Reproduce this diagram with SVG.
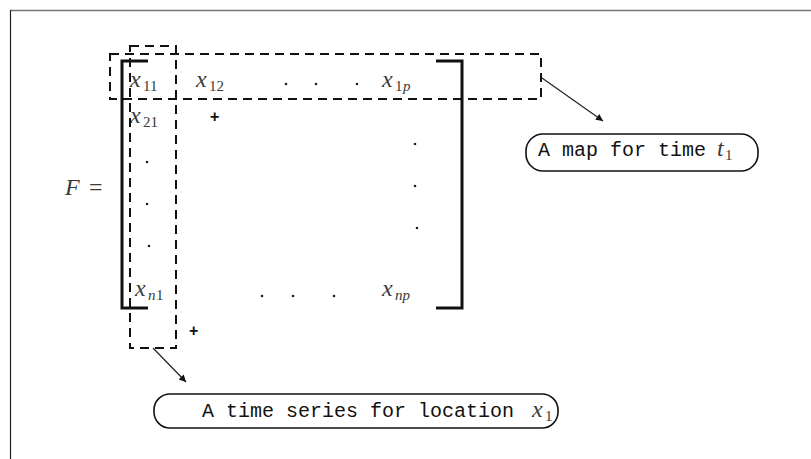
<svg xmlns="http://www.w3.org/2000/svg" width="811" height="459" viewBox="0 0 811 459">
  <style>
    .math { font-family: "Liberation Serif", "DejaVu Serif", serif; font-style: italic; fill: #3a3a3a; font-size: 24px; }
    .sub { font-family: "Liberation Serif", "DejaVu Serif", serif; font-style: normal; fill: #3a3a3a; font-size: 15px; }
    .subi { font-family: "Liberation Serif", "DejaVu Serif", serif; font-style: italic; fill: #3a3a3a; font-size: 15px; }
    .rm { font-family: "Liberation Serif", "DejaVu Serif", serif; fill: #3a3a3a; font-size: 24px; }
    .tt { font-family: "Liberation Mono", "DejaVu Sans Mono", monospace; fill: #111; font-size: 20px; }
    .plus { font-family: "Liberation Sans", "DejaVu Sans", sans-serif; font-weight: bold; fill: #111; font-size: 16px; }
    .bracket { fill: none; stroke: #111; stroke-width: 3; }
    .dash { fill: none; stroke: #111; stroke-width: 2; stroke-dasharray: 9 6; }
    .oval { fill: none; stroke: #111; stroke-width: 1.6; }
    .dot { fill: #222; }
    .conn { fill: none; stroke: #222; stroke-width: 1.2; }
  </style>
  <defs>
    <marker id="arrow" viewBox="0 0 10 10" refX="10" refY="5" markerWidth="9" markerHeight="7" markerUnits="userSpaceOnUse" orient="auto">
      <path d="M0,0 L10,5 L0,10 z" fill="#111"/>
    </marker>
  </defs>

  <rect x="0" y="0" width="811" height="459" fill="#fff"/>
  <!-- frame -->
  <line x1="10" y1="10.5" x2="811" y2="10.5" stroke="#777" stroke-width="1.5"/>
  <line x1="10.5" y1="10" x2="10.5" y2="459" stroke="#222" stroke-width="1.2"/>

  <!-- matrix F -->
  <g id="matrix">
    <text class="math" x="65" y="195">F</text>
    <text class="rm" x="89" y="195">=</text>
    <path class="bracket" d="M148,61 H122 V308 H148"/>
    <path class="bracket" d="M436,61 H462 V308 H436"/>

    <text class="math" x="130" y="87">x</text><text class="sub" x="143" y="91">11</text>
    <text class="math" x="196" y="87">x</text><text class="sub" x="209" y="91">12</text>
    <circle class="dot" cx="286" cy="84" r="1.3"/>
    <circle class="dot" cx="316" cy="84" r="1.3"/>
    <circle class="dot" cx="357" cy="84" r="1.3"/>
    <text class="math" x="382" y="87">x</text><text class="sub" x="395" y="91">1</text><text class="subi" x="403" y="91">p</text>

    <text class="math" x="130" y="123">x</text><text class="sub" x="143" y="127">21</text>
    <circle class="dot" cx="147" cy="162" r="1.3"/>
    <circle class="dot" cx="147" cy="204" r="1.3"/>
    <circle class="dot" cx="149" cy="246" r="1.3"/>
    <circle class="dot" cx="415" cy="144" r="1.3"/>
    <circle class="dot" cx="415" cy="186" r="1.3"/>
    <circle class="dot" cx="417" cy="228" r="1.3"/>

    <text class="math" x="135" y="296">x</text><text class="subi" x="148" y="300">n</text><text class="sub" x="156" y="300">1</text>
    <circle class="dot" cx="262" cy="296" r="1.3"/>
    <circle class="dot" cx="293" cy="296" r="1.3"/>
    <circle class="dot" cx="334" cy="296" r="1.3"/>
    <text class="math" x="382" y="296">x</text><text class="subi" x="395" y="300">np</text>

    <text class="plus" x="210" y="122">+</text>
    <text class="plus" x="189" y="336">+</text>
  </g>

  <!-- highlighted row and column -->
  <g id="rowBox">
    <rect class="dash" x="110" y="54" width="431" height="45"/>
  </g>
  <g id="colBox">
    <rect class="dash" x="130" y="46" width="46" height="302"/>
  </g>

  <!-- labels -->
  <g id="mapLabel">
    <rect class="oval" x="526" y="134" width="232" height="37" rx="17" ry="17"/>
    <text class="tt" x="538" y="156">A map for time</text>
    <text class="math" x="717" y="156">t</text><text class="sub" x="725" y="160">1</text>
  </g>
  <g id="seriesLabel">
    <rect class="oval" x="154" y="394" width="404" height="34" rx="16" ry="16"/>
    <text class="tt" x="202" y="417">A time series for location</text>
    <text class="math" x="532" y="417">x</text><text class="sub" x="545" y="421">1</text>
  </g>

  <g id="connectors">
    <line class="conn" x1="542" y1="78" x2="603" y2="121" marker-end="url(#arrow)"/>
    <line class="conn" x1="153" y1="348" x2="186" y2="382" marker-end="url(#arrow)"/>
  </g>
</svg>
